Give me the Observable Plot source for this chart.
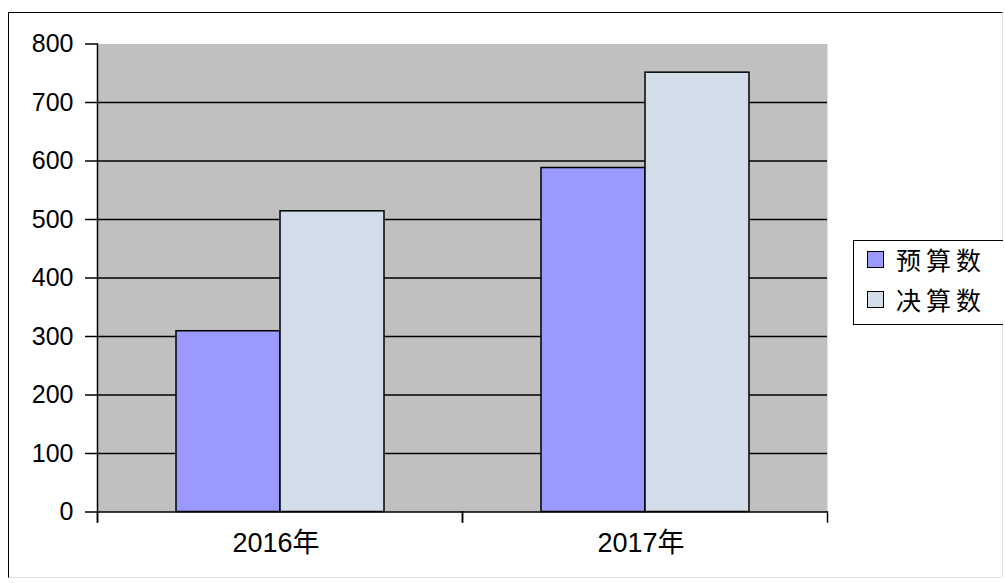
<!DOCTYPE html>
<html>
<head>
<meta charset="utf-8">
<script src="https://cdn.jsdelivr.net/npm/d3@7"></script>
<script src="https://cdn.jsdelivr.net/npm/@observablehq/plot@0.6"></script>
<style>
  html, body { margin: 0; padding: 0; background: #fff; }
  #wrap { position: relative; width: 1005px; height: 583px; overflow: hidden; }
  #border { position: absolute; left: 8px; top: 12px; width: 993px; height: 564px;
            border-left: 1px solid #000; border-top: 1px solid #000;
            border-right: 1px solid #e4e4e4; border-bottom: 1px solid #e4e4e4; pointer-events: none; }
  #chart { position: absolute; left: 0; top: 0; }
  #legend { position: absolute; left: 853px; top: 240px; width: 150px; height: 85px;
            border: 1.5px solid #000; border-right: none; box-sizing: border-box; background: #fff;
            font-family: "Noto Sans CJK SC", sans-serif; font-size: 25px; color: #000; }
  .item { position: absolute; left: 13px; height: 24px; display: flex; align-items: center; }
  .sw { width: 17px; height: 17px; border: 1.5px solid #000; box-sizing: border-box; margin-right: 12px; }
  .lab { letter-spacing: 5px; line-height: 24px; }
</style>
</head>
<body>
<div id="wrap">
  <div id="chart"></div>
  <div id="border"></div>
  <div id="legend"></div>
</div>
<script>
const years = ["2016年", "2017年"];
const series = ["预算数", "决算数"];
const budget = [309, 588];
const actual = [514, 751];
const colors = ["#9999FF", "#D3DDE9"];
const yTicks = [0, 100, 200, 300, 400, 500, 600, 700, 800];

const data = years.flatMap((y, i) => [
  {year: y, series: series[0], value: budget[i]},
  {year: y, series: series[1], value: actual[i]}
]);

const plotH = 583 - 43.5 - 71.5;

const chart = Plot.plot({
  width: 1005,
  height: 583,
  marginLeft: 96,
  marginRight: 178,
  marginTop: 43.5,
  marginBottom: 71.5,
  style: {fontFamily: "'Liberation Sans', 'Noto Sans CJK SC', sans-serif", background: "transparent", color: "#000"},
  fx: {domain: years, padding: 0, label: null},
  x: {domain: series, paddingInner: 0, paddingOuter: 0.74, axis: null},
  y: {domain: [0, 800], axis: null},
  color: {domain: series, range: colors},
  marks: [
    Plot.frame({facet: "super", fill: "#C0C0C0", stroke: "none"}),
    Plot.gridY(yTicks.filter(d => d > 0 && d < 800), {stroke: "#000", strokeOpacity: 1, strokeWidth: 1.5}),
    Plot.barY(data, {fx: "year", x: "series", y: "value", fill: "series", stroke: "#000", strokeWidth: 1.5}),
    Plot.ruleY([0], {stroke: "#000", strokeWidth: 1.5}),
    Plot.frame({facet: "super", anchor: "left", insetBottom: -10, stroke: "#000", strokeWidth: 1.5}),
    Plot.frame({anchor: "left", insetTop: plotH, insetBottom: -10, stroke: "#000", strokeWidth: 1.5}),
    Plot.frame({anchor: "right", insetTop: plotH, insetBottom: -10, stroke: "#000", strokeWidth: 1.5}),
    Plot.axisY({ticks: yTicks, tickSize: 12, tickPadding: 12, fontSize: 25, stroke: "#000", strokeWidth: 1.5, strokeOpacity: 1, label: null}),
    Plot.axisFx({anchor: "bottom", tickSize: 0, tickPadding: 21, fontSize: 27, label: null, dx: -4})
  ]
});
document.getElementById("chart").appendChild(chart);

const legend = document.getElementById("legend");
const rowTops = [6, 46];
series.forEach((s, i) => {
  const item = document.createElement("div");
  item.className = "item";
  item.style.top = rowTops[i] + "px";
  const sw = document.createElement("div");
  sw.className = "sw";
  sw.style.background = colors[i];
  const lab = document.createElement("span");
  lab.className = "lab";
  lab.textContent = s;
  item.appendChild(sw);
  item.appendChild(lab);
  legend.appendChild(item);
});
</script>
</body>
</html>
